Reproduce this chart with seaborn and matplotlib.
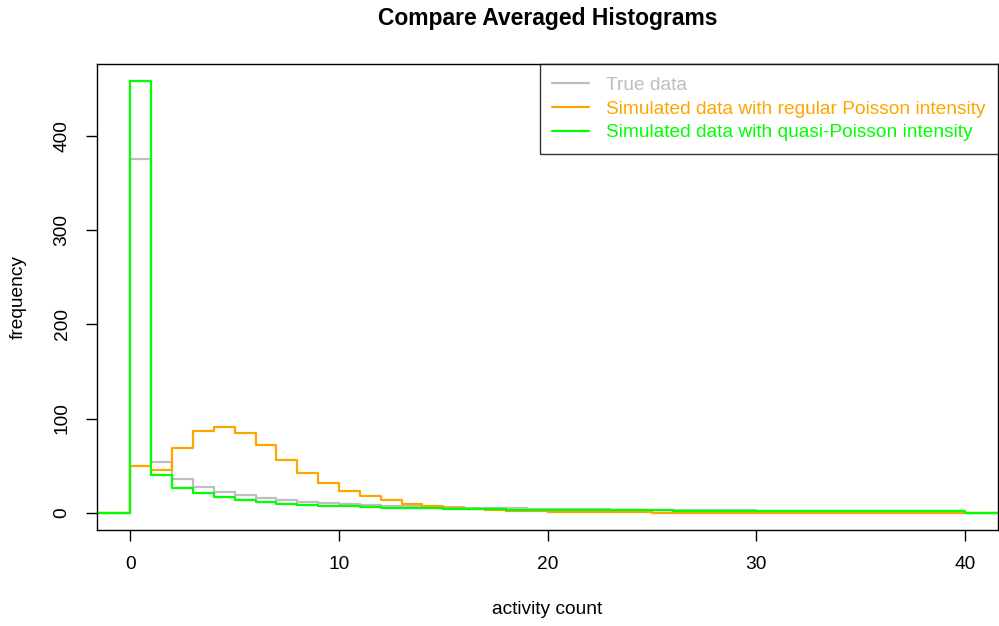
import numpy as np
import pandas as pd
import matplotlib
matplotlib.use("Agg")
import matplotlib.pyplot as plt
import seaborn as sns

# ---- data (averaged histogram counts, bins of width 1 from 0 to 40) ----
bin_left = list(range(0, 40))
true_counts = [376, 53.5, 35.8, 27.0, 22.2, 18.4, 15.3, 13.1, 11.5, 10.2,
               9.1, 8.2, 7.5, 6.9, 6.4, 5.9, 5.5, 5.1, 4.8, 4.5,
               4.0, 3.8, 3.6, 3.4, 3.2, 3.0, 2.8, 2.7, 2.5, 2.4,
               2.3, 2.2, 2.1, 2.1, 2.0, 2.0, 1.9, 1.9, 1.8, 1.8]
poisson_counts = [50, 45.5, 68.5, 86.5, 91.2, 85.0, 71.5, 56.0, 42.5, 31.5,
                  23.4, 17.5, 13.0, 9.6, 7.1, 5.5, 3.8, 2.8, 2.0, 1.4,
                  1.0, 0.7, 0.5, 0.4, 0.3, 0.2, 0.15, 0.1, 0.1, 0.05,
                  0.05, 0.03, 0.02, 0.02, 0.01, 0.01, 0, 0, 0, 0]
quasi_counts = [458, 39.7, 26.5, 20.5, 16.2, 13.5, 11.4, 9.8, 8.6, 7.6,
                6.8, 6.1, 5.5, 5.0, 4.6, 4.2, 3.9, 3.6, 3.3, 3.1,
                2.9, 2.8, 2.7, 2.6, 2.5, 2.4, 2.3, 2.2, 2.2, 2.1,
                2.1, 2.0, 2.0, 1.9, 1.9, 1.9, 1.8, 1.8, 1.8, 1.7]
series_names = ["True data",
                "Simulated data with regular Poisson intensity",
                "Simulated data with quasi-Poisson intensity"]
series_colors = ["#BEBEBE", "#FFA500", "#00FF00"]

# step outline: zero outside [0, 40]
rows = []
for name, counts in zip(series_names, [true_counts, poisson_counts, quasi_counts]):
    xs = [-3] + bin_left + [40, 43]
    ys = [0] + list(counts) + [0, 0]
    for x, y in zip(xs, ys):
        rows.append({"x": x, "frequency": y, "series": name})
df = pd.DataFrame(rows)

sns.set_theme(style="white")
plt.rcParams["font.family"] = ["Liberation Sans", "DejaVu Sans"]
plt.rcParams.update({"text.color": "black", "axes.labelcolor": "black",
                     "xtick.color": "black", "ytick.color": "black"})

W, H = 999, 626
fig = plt.figure(figsize=(W / 100, H / 100), dpi=100)
L, R, T, B = 97, 998, 64, 530
ax = fig.add_axes([L / W, 1 - B / H, (R - L) / W, (B - T) / H])

sns.lineplot(data=df, x="x", y="frequency", hue="series",
             hue_order=series_names, palette=series_colors,
             drawstyle="steps-post", linewidth=1.6, legend=False,
             estimator=None, sort=True, ax=ax)

ax.set_xlim(-1.6, 41.6)
ax.set_ylim(-18.32, 476.32)
ax.set_xticks([0, 10, 20, 30, 40])
ax.set_yticks([0, 100, 200, 300, 400])
ax.tick_params(axis="both", direction="out", length=8, width=1, color="black",
               labelcolor="black", labelsize=13.8, pad=11, bottom=True, left=True)
for lab in ax.get_yticklabels():
    lab.set_rotation(90)
    lab.set_va("center")

for sp in ax.spines.values():
    sp.set_visible(True)
    sp.set_color("black")
    sp.set_linewidth(1.0)

ax.set_xlabel("activity count", fontsize=13.8, color="black")
ax.xaxis.label.set_va("center")
ax.xaxis.set_label_coords(0.5, (B - 610) / (B - T))
ax.set_ylabel("frequency", fontsize=13.8, color="black")
ax.yaxis.label.set_va("center")
ax.yaxis.set_label_coords((18 - L) / (R - L), 0.5)

ax.text(0.5, (B - 18) / (B - T), "Compare Averaged Histograms",
        transform=ax.transAxes, ha="center", va="center", color="black",
        fontsize=16.5, fontweight="bold")

handles = ax.get_lines()[:3]
leg = ax.legend(handles, series_names, loc="upper right", fontsize=13.8,
                frameon=True, fancybox=False, borderaxespad=0,
                handlelength=1.9, handletextpad=0.9, labelspacing=0.33,
                borderpad=0.65)
leg.get_frame().set_edgecolor("black")
leg.get_frame().set_linewidth(1.0)
for txt, c in zip(leg.get_texts(), series_colors):
    txt.set_color(c)

fig.savefig("out.png", dpi=100)
